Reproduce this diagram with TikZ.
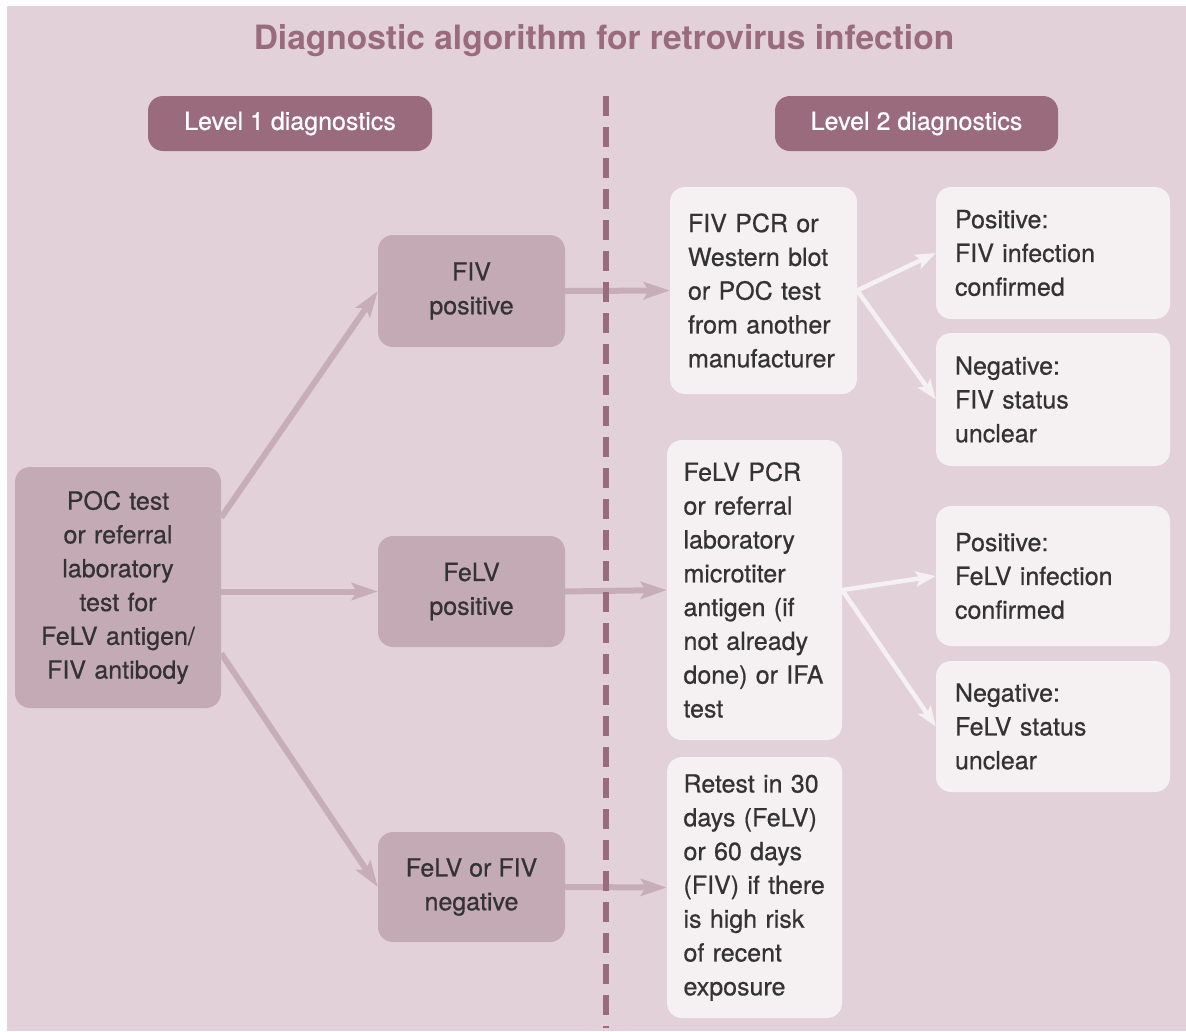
\documentclass[tikz,border=0pt]{standalone}
\usepackage{fontspec}
\setmainfont{TeX Gyre Heros}[UprightFeatures={FakeBold=0.6}]
\usetikzlibrary{arrows.meta}
\definecolor{bgpink}{HTML}{E2D1D8}
\definecolor{darkmauve}{HTML}{9A6B7C}
\definecolor{midmauve}{HTML}{C4AAB4}
\definecolor{arrowmauve}{HTML}{C7ADB8}
\definecolor{palewhite}{HTML}{F5F0F2}
\definecolor{txtgray}{HTML}{333333}
\tikzset{
    every node/.style={inner sep=0pt, text=txtgray,
    	font=\fontsize{25}{33.8}\selectfont}
}
\tikzset{
    levelbox/.style={fill=darkmauve, rounded corners=15pt, text=white,
    	minimum width=284pt, minimum height=55pt},
    midbox/.style={fill=midmauve, rounded corners=15pt, align=center,
    	minimum width=187pt},
    whitebox/.style={fill=palewhite, rounded corners=15pt, align=left}
}
\tikzset{
    every edge/.append style={line width=6pt, draw=arrowmauve,
    	-{Stealth[length=26pt,width=17pt,inset=5pt]}},
    whiteedge/.style={line width=4.5pt, draw=palewhite,
    	-{Stealth[length=20pt,width=15pt,inset=4pt]}}
}

\begin{document}
\begin{tikzpicture}[x=1pt,y=-1pt]
	\useasboundingbox (0,0) rectangle (1186,1031);
	\fill[bgpink] (7,6) rectangle (1186,1031);

	\node (title) [font=\fontsize{33.5}{40}\selectfont\bfseries, text=darkmauve] at (604,41)
		{Diagnostic algorithm for retrovirus infection};
	\node (lvl1) [levelbox] at (290,123.5) {Level 1 diagnostics};
	\node (lvl2) [levelbox, minimum width=283pt] at (916.5,123.5) {Level 2 diagnostics};

	\node (1) [midbox, text width=190pt, minimum width=206pt, minimum height=241pt] at (118,587.5)
		{POC test\\or referral\\laboratory\\test for\\FeLV antigen/\\FIV antibody};
	\node (2) [midbox, minimum height=112pt] at (471.5,291) {FIV\\positive};
	\node (3) [midbox, minimum height=111pt] at (471.5,591.5) {FeLV\\positive};
	\node (4) [midbox, minimum height=110pt] at (471.5,887) {FeLV or FIV\\negative};

	\node (5) [whitebox, text width=151pt, inner xsep=18pt, minimum height=207pt] at (763.5,290.5)
		{FIV PCR or\\Western blot\\or POC test\\from another\\manufacturer};
	\node (6) [whitebox, text width=142pt, inner xsep=16.5pt, minimum height=300pt] at (754.5,590)
		{FeLV PCR\\or referral\\laboratory\\microtiter\\antigen (if\\not already\\done) or IFA\\test};
	\node (7) [whitebox, text width=142pt, inner xsep=16.5pt, minimum height=261pt] at (754.5,887.5)
		{Retest in 30\\days (FeLV)\\or 60 days\\(FIV) if there\\is high risk\\of recent\\exposure};

	\node (8) [whitebox, text width=196pt, inner xsep=19pt, minimum height=132pt] at (1053,253)
		{Positive:\\FIV infection\\confirmed};
	\node (9) [whitebox, text width=196pt, inner xsep=19pt, minimum height=133pt] at (1053,399.5)
		{Negative:\\FIV status\\unclear};
	\node (10) [whitebox, text width=196pt, inner xsep=19pt, minimum height=140pt] at (1053,576)
		{Positive:\\FeLV infection\\confirmed};
	\node (11) [whitebox, text width=196pt, inner xsep=19pt, minimum height=131pt] at (1053,726.5)
		{Negative:\\FeLV status\\unclear};

	\draw ([yshift=70pt]1.east) edge (2.west); \draw (1.east |- 3.west) edge (3.west);
	\draw ([yshift=-66pt]1.east) edge (4.west);
	\draw (2.east) edge (5.west); \draw (3.east) edge (6.west); \draw (4.east) edge (7.west);
	\draw (5.east) edge [whiteedge] (8.west); \draw (5.east) edge [whiteedge] (9.west);
	\draw (6.east) edge [whiteedge] (10.west); \draw (6.east) edge [whiteedge] (11.west);

	\draw[darkmauve, line width=6pt, dash pattern=on 20pt off 11pt] (606,96) -- (606,1028);
\end{tikzpicture}
\end{document}
